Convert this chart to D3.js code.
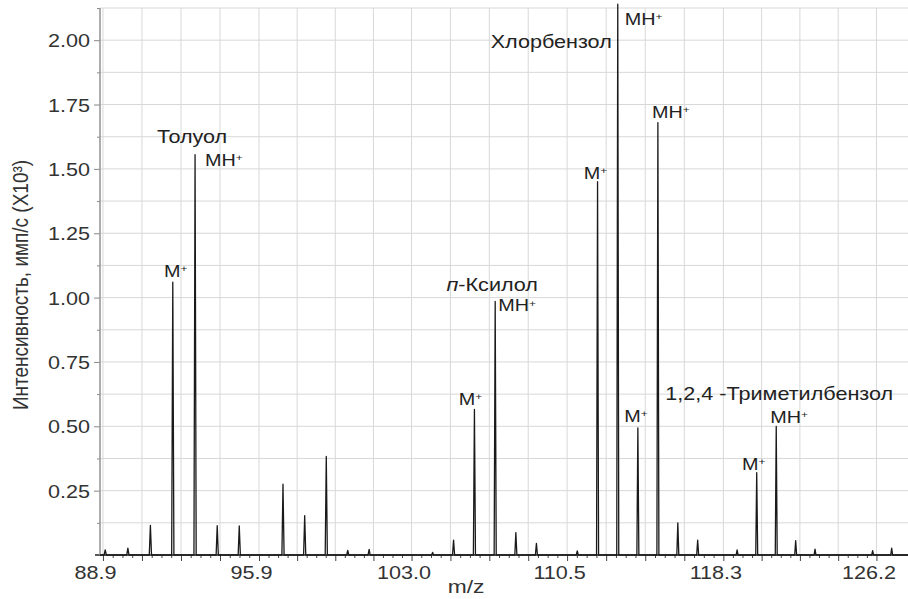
<!DOCTYPE html>
<html lang="ru">
<head>
    <meta charset="UTF-8">
    <title>Масс-спектр</title>
    <script src="https://d3js.org/d3.v7.min.js"></script>
    <style>
        body {
            margin: 0;
            background: white;
            font-family: "Liberation Sans", Arial, sans-serif;
        }
        svg {
            display: block;
            background: white;
        }
        .grid line {
            stroke: #d8d8d8;
            stroke-width: 1;
        }
        .tick-label {
            font-size: 18px;
            fill: #333;
        }
        .ion-label {
            font-size: 16.5px;
            fill: #222;
        }
        .name-label {
            font-size: 18px;
            fill: #222;
        }
        .axis-title {
            font-size: 19px;
            fill: #333;
        }
    </style>
</head>
<body>

    <svg id="chart"></svg>

    <script>
        // peaks of the spectrum: m/z and intensity (x10^3 imp/s)
        const mz        = [89, 90, 91, 92, 93, 94, 95, 97, 98, 99, 100, 101, 104, 105, 106, 107, 108, 109,
                           111, 112, 113, 114, 115, 116, 117, 119, 120, 121, 122, 123, 126, 127];
        const intensity = [0.02, 0.027, 0.115, 1.06, 1.555, 0.114, 0.113, 0.275, 0.153, 0.383, 0.018, 0.022, 0.01, 0.058, 0.566, 0.985, 0.087, 0.045,
                           0.016, 1.45, 2.14, 0.494, 1.68, 0.125, 0.058, 0.02, 0.32, 0.50, 0.056, 0.023, 0.017, 0.027];

        const xTickValues = [88.9, 95.9, 103.0, 110.5, 118.3, 126.2];
        const yTickValues = [0.25, 0.50, 0.75, 1.00, 1.25, 1.50, 1.75, 2.00];

        // ion labels (M+ / MH+) at these peaks
        const ionMz   = [92, 93, 106, 107, 112, 113, 114, 115, 120, 121];
        const ionType = ["M", "MH", "M", "MH", "M", "MH", "M", "MH", "M", "MH"];

        // compound names, attached to their MH+ peak
        const compoundNames = ["Толуол", "п-Ксилол", "Хлорбензол", "1,2,4 -Триметилбензол"];
        const compoundMz    = [93, 107, 113, 121];

        const width = 908, height = 599;
        const margin = { top: 8, right: 0, bottom: 44, left: 100 };
        const stretch = 1.2; // text in the picture is wider than normal

        const svg = d3.select("#chart").attr("width", width).attr("height", height);

        // time-of-flight axis: m/z on a square-root scale
        const x = d3.scalePow().exponent(0.5)
            .domain([88.77, 127.86])
            .range([margin.left, width - margin.right]);

        const y = d3.scaleLinear()
            .domain([0, 2.125])
            .range([height - margin.bottom, margin.top]);

        const peakOf = m => intensity[mz.indexOf(m)];

        // grid: 4 cells between labelled m/z ticks (even in sqrt space)
        const gridX = [], smallX = [];
        for (let i = 0; i < xTickValues.length - 1; i++) {
            const a = Math.sqrt(xTickValues[i]), b = Math.sqrt(xTickValues[i + 1]);
            for (let j = 0; j < 16; j++) {
                if (j === 0) { gridX.push(xTickValues[i]); continue; }
                const v = Math.pow(a + (b - a) * j / 16, 2);
                if (j % 4 === 0) gridX.push(v); else smallX.push(v);
            }
        }
        gridX.push(xTickValues[xTickValues.length - 1]);
        const gridY = d3.range(1, 18).map(i => i * 0.125);

        const grid = svg.append("g").attr("class", "grid");
        grid.selectAll(".gx").data(gridX).enter().append("line")
            .attr("x1", d => x(d)).attr("x2", d => x(d))
            .attr("y1", y(2.125)).attr("y2", y(0));
        grid.selectAll(".gy").data(gridY).enter().append("line")
            .attr("x1", margin.left).attr("x2", width)
            .attr("y1", d => y(d)).attr("y2", d => y(d));

        // small ticks on the m/z axis
        svg.append("g")
            .attr("transform", `translate(0,${y(0)})`)
            .call(d3.axisBottom(x).tickValues(smallX).tickSize(3).tickFormat(""))
            .call(g => g.select(".domain").remove())
            .call(g => g.selectAll("line").attr("stroke", "#444"));

        const xAxis = svg.append("g")
            .attr("transform", `translate(0,${y(0)})`)
            .call(d3.axisBottom(x).tickValues(gridX).tickSize(6)
                .tickFormat(d => xTickValues.includes(d) ? d3.format(".1f")(d) : ""));
        xAxis.select(".domain").remove();
        xAxis.selectAll("line").attr("stroke", "#444");
        xAxis.selectAll("text")
            .attr("class", "tick-label")
            .attr("font-size", null).attr("font-family", null)
            .attr("y", null).attr("dy", null)
            .attr("transform", `translate(-8,24) scale(${stretch},1)`);

        svg.append("line")
            .attr("x1", margin.left - 5).attr("x2", width)
            .attr("y1", y(0)).attr("y2", y(0))
            .attr("stroke", "#222").attr("stroke-width", 1.3);

        // y axis
        svg.append("g")
            .attr("transform", `translate(${margin.left},0)`)
            .call(d3.axisLeft(y).tickValues(gridY.filter(v => !yTickValues.includes(v))).tickSize(3).tickFormat(""))
            .call(g => g.select(".domain").remove())
            .call(g => g.selectAll("line").attr("stroke", "#888"));

        const yAxis = svg.append("g")
            .attr("transform", `translate(${margin.left},0)`)
            .call(d3.axisLeft(y).tickValues(yTickValues).tickSize(6).tickFormat(d3.format(".2f")));
        yAxis.select(".domain").remove();
        yAxis.selectAll("line").attr("stroke", "#888");
        yAxis.selectAll("text")
            .attr("class", "tick-label")
            .attr("font-size", null).attr("font-family", null)
            .attr("x", null).attr("dy", "0.36em")
            .attr("transform", `translate(-10,0) scale(${stretch},1)`);

        svg.append("line")
            .attr("x1", margin.left).attr("x2", margin.left)
            .attr("y1", y(2.125)).attr("y2", y(0))
            .attr("stroke", "#999").attr("stroke-width", 1.6);

        // the spectrum: one narrow spike per peak
        const halfWidth = 0.05;
        const pts = [[x.domain()[0], 0]];
        mz.forEach((m, i) => {
            pts.push([m - halfWidth, 0], [m, intensity[i]], [m + halfWidth, 0]);
        });
        pts.push([x.domain()[1], 0]);

        svg.append("path")
            .datum(pts)
            .attr("fill", "none")
            .attr("stroke", "#1a1a1a")
            .attr("stroke-width", 1.3)
            .attr("stroke-linejoin", "round")
            .attr("d", d3.line().x(d => x(d[0])).y(d => y(d[1])));

        // ion labels
        const ionOffsets = [[3, -5], [10, 11], [-4, -4], [3, 10], [-2, -3], [7, 21], [-2, -6], [-6, -5], [-3, -3], [-6, -3]];
        ionMz.forEach((m, i) => {
            const t = svg.append("text")
                .attr("class", "ion-label")
                .attr("text-anchor", ionType[i] === "M" ? "middle" : "start")
                .attr("transform", `translate(${x(m) + ionOffsets[i][0]},${y(peakOf(m)) + ionOffsets[i][1]}) scale(${stretch},1)`);
            t.append("tspan").text(ionType[i]);
            t.append("tspan").attr("font-size", "0.6em").attr("dy", "-0.5em").text("+");
        });

        // compound names
        const nameLayout = [
            { anchor: "middle", dx: -3, dy: -12 },
            { anchor: "middle", dx: -3, dy: -10 },
            { anchor: "end", dx: -6, dy: 44 },
            { anchor: "middle", dx: 3, dy: -26 }
        ];
        compoundNames.forEach((name, i) => {
            const m = compoundMz[i], l = nameLayout[i];
            const t = svg.append("text")
                .attr("class", "name-label")
                .attr("text-anchor", l.anchor)
                .attr("transform", `translate(${x(m) + l.dx},${y(peakOf(m)) + l.dy}) scale(${stretch},1)`);
            if (name.startsWith("п-")) {
                t.append("tspan").attr("font-style", "italic").text("п");
                t.append("tspan").text(name.slice(1));
            } else {
                t.text(name);
            }
        });

        // axis titles
        svg.append("text")
            .attr("class", "axis-title")
            .attr("text-anchor", "middle")
            .attr("dy", "0.35em")
            .attr("transform", `translate(20,285) scale(${stretch},1) rotate(-90)`)
            .text("Интенсивность, имп/с (X10³)");

        svg.append("text")
            .attr("class", "axis-title")
            .attr("text-anchor", "middle")
            .attr("font-size", "17px")
            .attr("transform", `translate(466,593) scale(${stretch},1)`)
            .text("m/z");
    </script>

</body>
</html>
